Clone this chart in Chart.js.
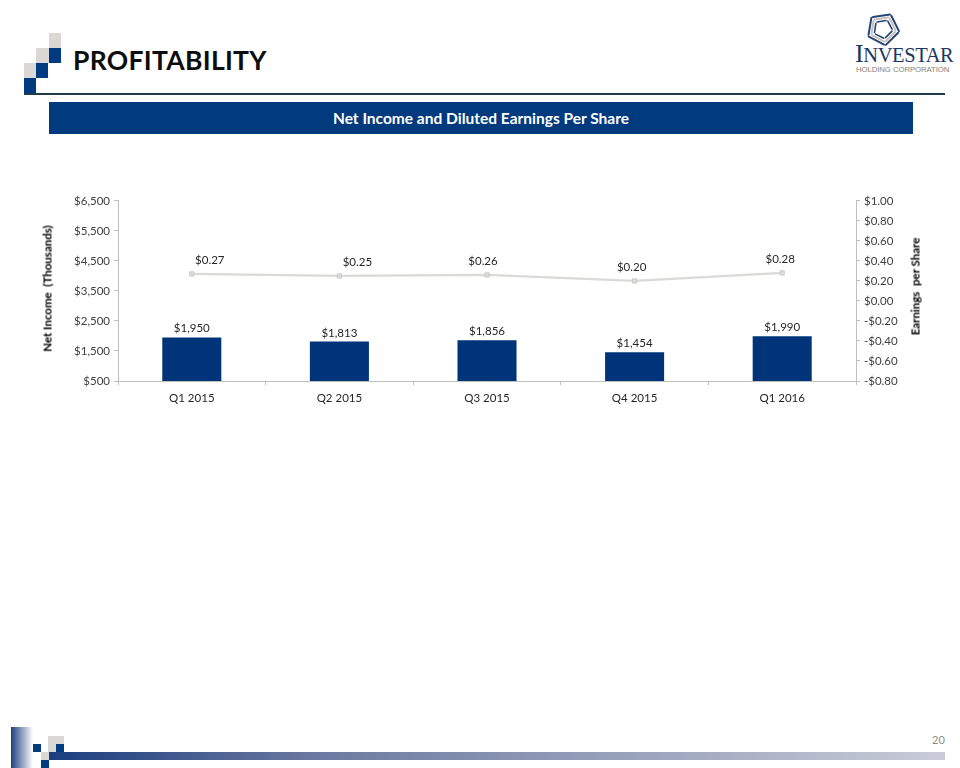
<!DOCTYPE html>
<html>
<head>
<meta charset="utf-8">
<script src="https://cdn.jsdelivr.net/npm/chart.js@4/dist/chart.umd.min.js"></script>
<style>
  html, body { margin:0; padding:0; background:#fff; }
  body { width:960px; height:768px; position:relative; overflow:hidden; font-family: Lato, "Open Sans", sans-serif; }
  .abs { position:absolute; }
  .sq { position:absolute; }
  .navy { background:#003a80; }
  .gray { background:#d9d8d4; }
  #title { left:73px; top:44px; font-size:26.5px; font-weight:bold; color:#0d0d0d; letter-spacing:0.3px; }
  #hline { left:24px; top:93px; width:921px; height:2px; background:#1e3b4c; }
  #banner { left:49px; top:102px; width:864px; height:32px; background:#023a7e; color:#fff; font-weight:bold; font-size:15.5px; text-align:center; line-height:32px; }
  #chartwrap { left:0; top:190px; width:960px; height:230px; }
  .ytitle { font-weight:bold; font-size:11.5px; color:#000; white-space:nowrap; transform:rotate(-90deg); transform-origin:center center; text-align:center; width:200px; }
  #logoText { left:855px; top:41px; font-family:"Liberation Serif","DejaVu Serif",serif; color:#1c3565; white-space:nowrap; line-height:26px; letter-spacing:-0.4px; }
  #logoText .big { font-size:26px; }
  #logoText .small { font-size:20.5px; }
  #logoSub { left:856px; top:65px; font-family:"Liberation Sans",Arial,sans-serif; color:#8a8173; font-size:7.8px; letter-spacing:-0.1px; white-space:nowrap; }
  #pnum { left:932px; top:733px; color:#8c8c8c; font-size:11px; }
</style>
</head>
<body>
<!-- header squares -->
<div class="sq gray" style="left:49px;top:33px;width:12px;height:15px"></div>
<div class="sq navy" style="left:49px;top:48px;width:12px;height:15px"></div>
<div class="sq gray" style="left:36px;top:48px;width:13px;height:15px"></div>
<div class="sq navy" style="left:36px;top:63px;width:12px;height:15px"></div>
<div class="sq gray" style="left:24px;top:63px;width:12px;height:15px"></div>
<div class="sq navy" style="left:24px;top:78px;width:12px;height:16px"></div>
<div id="title" class="abs">PROFITABILITY</div>
<div id="hline" class="abs"></div>
<div id="banner" class="abs">Net Income and Diluted Earnings Per Share</div>

<!-- logo -->
<svg class="abs" style="left:864px;top:12px" width="38" height="34" viewBox="-19 -17 38 34">
  <g id="blade" fill="none" stroke-linecap="round">
    <path d="M-10 -12 L7 -14.5" stroke="#25457a" stroke-width="2"/>
    <path d="M-8 -9.5 L5 -11.5" stroke="#c5c2ba" stroke-width="2"/>
    <path d="M-6 -7 L3 -8.5" stroke="#25457a" stroke-width="1.6"/>
  </g>
  <use href="#blade" transform="rotate(72)"/>
  <use href="#blade" transform="rotate(144)"/>
  <use href="#blade" transform="rotate(216)"/>
  <use href="#blade" transform="rotate(288)"/>
</svg>
<div id="logoText" class="abs"><span class="big">I</span><span class="small">NVESTAR</span></div>
<div id="logoSub" class="abs">HOLDING CORPORATION</div>

<div id="chartwrap" class="abs"><canvas id="c"></canvas></div>
<div class="abs ytitle" style="left:-53px;top:282px;">Net Income &nbsp;(Thousands)</div>
<div class="abs ytitle" style="left:815px;top:280px;">Earnings &nbsp;per Share</div>

<!-- footer -->
<div class="abs" style="left:11px;top:727px;width:22px;height:41px;background:linear-gradient(to right,#1f3f7f,#ffffff)"></div>
<div class="sq navy" style="left:33px;top:744px;width:8px;height:8px"></div>
<div class="sq gray" style="left:48px;top:736px;width:8px;height:8px"></div>
<div class="sq gray" style="left:56px;top:736px;width:8px;height:8px"></div>
<div class="sq gray" style="left:48px;top:744px;width:8px;height:8px"></div>
<div class="sq navy" style="left:56px;top:744px;width:8px;height:8px"></div>
<div class="sq gray" style="left:41px;top:752px;width:8px;height:8px"></div>
<div class="sq navy" style="left:41px;top:760px;width:8px;height:8px"></div>
<div class="abs" style="left:49px;top:752px;width:896px;height:8px;background:linear-gradient(to right,#1b3d7f,#6b7aa0 30%,#c9ccd8)"></div>
<div id="pnum" class="abs">20</div>

<script>
const categories = ["Q1 2015", "Q2 2015", "Q3 2015", "Q4 2015", "Q1 2016"];
const netIncome = [1950, 1813, 1856, 1454, 1990];
const eps = [0.27, 0.25, 0.26, 0.20, 0.28];
const leftTicks = [500, 1500, 2500, 3500, 4500, 5500, 6500];
const rightTicks = [-0.8, -0.6, -0.4, -0.2, 0.0, 0.2, 0.4, 0.6, 0.8, 1.0];

const epsLabelDx = [18, 18, -4, -3, -2];

const fmtMoney = v => "$" + v.toLocaleString("en-US");
const fmtEps = v => (v < 0 ? "-$" : "$") + Math.abs(v).toFixed(2);

const labelPlugin = {
  id: "valueLabels",
  afterDatasetsDraw(chart) {
    const ctx = chart.ctx;
    ctx.save();
    ctx.font = "11.5px Lato, 'Open Sans', sans-serif";
    ctx.fillStyle = "#262626";
    ctx.textAlign = "center";
    ctx.textBaseline = "alphabetic";
    const barMeta = chart.getDatasetMeta(0);
    barMeta.data.forEach((el, i) => {
      ctx.fillText(fmtMoney(netIncome[i]), el.x, el.y - 5);
    });
    const lineMeta = chart.getDatasetMeta(1);
    lineMeta.data.forEach((el, i) => {
      ctx.fillText(fmtEps(eps[i]), el.x + epsLabelDx[i], el.y - 10);
    });
    ctx.restore();
  }
};

Chart.defaults.font.family = "Lato, 'Open Sans', sans-serif";
Chart.defaults.color = "#404040";

new Chart(document.getElementById("c"), {
  type: "bar",
  data: {
    labels: categories,
    datasets: [
      {
        type: "bar",
        data: netIncome,
        backgroundColor: "#003478",
        borderWidth: 0,
        barPercentage: 0.4,
        categoryPercentage: 1.0,
        yAxisID: "y",
        order: 2
      },
      {
        type: "line",
        data: eps,
        borderColor: "#dadad6",
        borderWidth: 2.2,
        pointStyle: "rect",
        pointRadius: 3,
        pointBackgroundColor: "#dcdcd8",
        pointBorderColor: "#cbcbc7",
        pointBorderWidth: 1,
        tension: 0,
        yAxisID: "y2",
        order: 1
      }
    ]
  },
  options: {
    responsive: true,
    maintainAspectRatio: false,
    animation: false,
    layout: { padding: { top: 10, left: 0, right: 0, bottom: 0 } },
    plugins: { legend: { display: false }, tooltip: { enabled: false } },
    scales: {
      x: {
        offset: true,
        grid: { display: true, offset: true, drawOnChartArea: false, drawTicks: true, tickLength: 4, color: "#bfbfbf" },
        border: { display: true, color: "#bfbfbf", width: 1 },
        ticks: { font: { size: 11.5 }, color: "#262626", padding: 6, maxRotation: 0 },
        afterFit(s) { s.height = 39; }
      },
      y: {
        position: "left",
        min: 500, max: 6500,
        afterBuildTicks(s) { s.ticks = leftTicks.map(v => ({ value: v })); },
        grid: { display: true, drawOnChartArea: false, drawTicks: true, tickLength: 4, color: "#bfbfbf" },
        border: { display: true, color: "#bfbfbf", width: 1 },
        ticks: { callback: v => fmtMoney(v), font: { size: 11.5 }, color: "#404040", padding: 4 },
        afterFit(s) { s.width = 118; }
      },
      y2: {
        position: "right",
        min: -0.8, max: 1.0,
        afterBuildTicks(s) { s.ticks = rightTicks.map(v => ({ value: v })); },
        grid: { display: true, drawOnChartArea: false, drawTicks: true, tickLength: 4, color: "#bfbfbf" },
        border: { display: true, color: "#bfbfbf", width: 1 },
        ticks: { callback: v => fmtEps(Math.round(v * 100) / 100), font: { size: 11.5 }, color: "#404040", padding: 4 },
        afterFit(s) { s.width = 104; }
      }
    }
  },
  plugins: [labelPlugin]
});
</script>
</body>
</html>
